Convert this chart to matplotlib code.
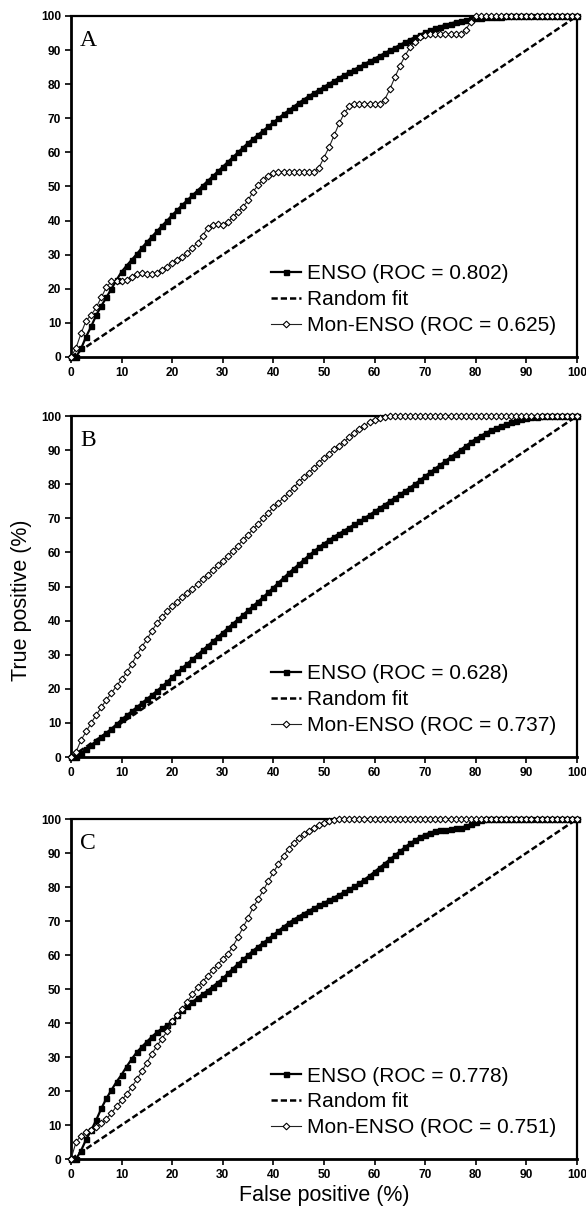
import matplotlib
matplotlib.use("Agg")
import matplotlib.pyplot as plt
import numpy as np

# False-positive rate (%) at which each curve is sampled
false_pos = list(range(0, 101))

# ---- Panel A ----
enso_a = [0, 0, 2.5, 6, 9, 12.3, 15, 17.5, 20, 22.6, 25,
          26.8, 28.5, 30.2, 32, 33.7, 35.3, 36.9, 38.5, 40, 41.6,
          43.1, 44.6, 46, 47.4, 48.8, 50.2, 51.6, 53, 54.4, 55.8,
          57.2, 58.6, 60, 61.4, 62.8, 64, 65.2, 66.4, 67.6, 68.8,
          70, 71.2, 72.3, 73.4, 74.5, 75.5, 76.5, 77.4, 78.3, 79.2,
          80.1, 81, 81.9, 82.7, 83.5, 84.3, 85.1, 85.9, 86.7, 87.5,
          88.3, 89.1, 89.9, 90.7, 91.5, 92.3, 93.1, 93.8, 94.5, 95.2,
          95.8, 96.4, 96.9, 97.4, 97.8, 98.2, 98.5, 98.8, 99.1, 99.3,
          99.5, 99.6, 99.7, 99.8, 99.85, 99.9, 99.95, 100, 100, 100,
          100, 100, 100, 100, 100, 100, 100, 100, 100, 100]
mon_a = [0, 2.7, 7, 10.7, 12.3, 14.6, 17.5, 20.5, 22.2, 22.4, 22.2,
         22.5, 23.5, 24.3, 24.5, 24.4, 24.3, 24.5, 25.5, 26.5, 27.5,
         28.3, 29.2, 30.5, 32, 33.5, 35.5, 37.8, 38.8, 39, 38.6,
         39.5, 41, 42.5, 44, 46, 48.5, 50.5, 52, 53.2, 54,
         54.3, 54.3, 54.3, 54.3, 54.3, 54.3, 54.3, 54.3, 55.5, 58.5,
         61.5, 65, 68.5, 71.5, 73.5, 74.2, 74.2, 74.2, 74.2, 74.2,
         74.2, 75.5, 78.5, 82, 85.3, 88.3, 90.8, 92.5, 93.8, 94.5,
         94.6, 94.6, 94.6, 94.6, 94.6, 94.6, 94.6, 96, 98.2, 100,
         100, 100, 100, 100, 100, 100, 100, 100, 100, 100,
         100, 100, 100, 100, 100, 100, 100, 100, 100, 100]

# ---- Panel B ----
enso_b = [0, 0, 1.1, 2.3, 3.5, 4.7, 5.9, 7.1, 8.3, 9.6, 11,
          12.2, 13.4, 14.6, 15.8, 17, 18.2, 19.4, 20.7, 22, 23.5,
          24.8, 26.1, 27.4, 28.7, 30, 31.3, 32.6, 33.9, 35.2, 36.5,
          37.8, 39.1, 40.4, 41.7, 43, 44.3, 45.6, 46.9, 48.3, 49.7,
          51.1, 52.5, 53.9, 55.2, 56.5, 57.8, 59.1, 60.3, 61.5, 62.6,
          63.6, 64.6, 65.5, 66.4, 67.3, 68.2, 69.1, 70, 71, 72,
          73, 74, 75, 76, 77, 78, 79, 80.1, 81.2, 82.4,
          83.5, 84.6, 85.7, 86.8, 87.9, 89, 90.1, 91.2, 92.3, 93.3,
          94.2, 95, 95.8, 96.5, 97.1, 97.6, 98.1, 98.6, 99, 99.3,
          99.6, 99.8, 99.9, 100, 100, 100, 100, 100, 100, 100]
mon_b = [0, 1.5, 5, 7.5, 10, 12.4, 14.6, 16.8, 18.8, 20.8, 22.8,
         24.8, 27.2, 30, 32.3, 34.5, 37, 39.3, 41, 42.7, 44.2,
         45.5, 46.8, 48.1, 49.4, 50.8, 52.2, 53.5, 54.8, 56.2, 57.6,
         59, 60.5, 62, 63.6, 65.2, 66.8, 68.4, 70, 71.6, 73.2,
         74.6, 76, 77.5, 79, 80.6, 82, 83.3, 84.8, 86.3, 87.8,
         89, 90.2, 91.3, 92.5, 93.7, 95, 96.2, 97.2, 98.1, 98.8,
         99.4, 99.8, 100, 100, 100, 100, 100, 100, 100, 100,
         100, 100, 100, 100, 100, 100, 100, 100, 100, 100,
         100, 100, 100, 100, 100, 100, 100, 100, 100, 100,
         100, 100, 100, 100, 100, 100, 100, 100, 100, 100]

# ---- Panel C ----
enso_c = [0, 0, 2.5, 5.8, 8.5, 11.5, 14.9, 17.8, 20.3, 22.7, 24.8,
          27.2, 29.4, 31.4, 33, 34.5, 36, 37.3, 38.4, 39.4, 40.5,
          42.3, 43.7, 44.9, 46.2, 47.4, 48.5, 49.5, 50.7, 51.9, 53.1,
          54.6, 56, 57.4, 58.7, 60, 61.3, 62.5, 63.6, 64.7, 65.9,
          67.1, 68.3, 69.4, 70.4, 71.3, 72.2, 73, 73.8, 74.6, 75.3,
          76.1, 76.9, 77.7, 78.5, 79.3, 80.2, 81.1, 82.2, 83.3, 84.5,
          85.7, 86.9, 88.1, 89.3, 90.5, 91.7, 92.8, 93.8, 94.7, 95.4,
          96, 96.4, 96.7, 96.9, 97.1, 97.3, 97.5, 97.8, 98.5, 99.2,
          99.7, 100, 100, 100, 100, 100, 100, 100, 100, 100,
          100, 100, 100, 100, 100, 100, 100, 100, 100, 100]
mon_c = [0, 5, 6.9, 7.8, 8.5, 9.3, 10.5, 11.8, 13.5, 15.5, 17.3,
         19, 21.2, 23.4, 25.8, 28.3, 31, 33.3, 35.4, 37.6, 40.6,
         42.5, 44.2, 46.3, 48.5, 50.5, 52.2, 53.8, 55.6, 57.2, 58.8,
         60.3, 62.5, 65.3, 68.1, 71, 74, 76.5, 79, 81.8, 84.3,
         86.8, 89.2, 91.2, 92.9, 94.4, 95.6, 96.6, 97.5, 98.2, 98.8,
         99.3, 99.6, 99.9, 100, 100, 100, 100, 100, 100, 100,
         100, 100, 100, 100, 100, 100, 100, 100, 100, 100,
         100, 100, 100, 100, 100, 100, 100, 100, 100, 100,
         100, 100, 100, 100, 100, 100, 100, 100, 100, 100,
         100, 100, 100, 100, 100, 100, 100, 100, 100, 100]

random_fit = [0, 100]
random_x = [0, 100]

panel_letters = ["A", "B", "C"]
enso_roc = ["0.802", "0.628", "0.778"]
mon_roc = ["0.625", "0.737", "0.751"]
ticks = [0, 10, 20, 30, 40, 50, 60, 70, 80, 90, 100]

enso_series = [enso_a, enso_b, enso_c]
mon_series = [mon_a, mon_b, mon_c]

plt.rcParams['font.family'] = ['Liberation Sans', 'DejaVu Sans']

fig = plt.figure(figsize=(5.86, 12.22), dpi=100)

W, H = 586.0, 1222.0
left_px, right_px = 71, 577
panels_px = [(16, 357), (416, 757), (819, 1159)]

for i, (top, bot) in enumerate(panels_px):
    ax = fig.add_axes([left_px / W, 1 - bot / H, (right_px - left_px) / W, (bot - top) / H])
    ax.plot(random_x, random_fit, color='black', lw=1.8, ls=(0, (2.5, 1.2)),
            label='Random fit', zorder=2)
    ax.plot(false_pos, enso_series[i], color='black', lw=1.6, marker='s',
            markersize=3.6, markerfacecolor='black', markeredgecolor='black',
            label=f'ENSO (ROC = {enso_roc[i]})', zorder=3, clip_on=False)
    ax.plot(false_pos, mon_series[i], color='#222222', lw=0.8, marker='D',
            markersize=3.4, markerfacecolor='white', markeredgecolor='black',
            markeredgewidth=0.8, label=f'Mon-ENSO (ROC = {mon_roc[i]})',
            zorder=4, clip_on=False)
    ax.set_xlim(0, 100)
    ax.set_ylim(0, 100)
    ax.set_xticks(ticks)
    ax.set_yticks(ticks)
    ax.tick_params(axis='both', direction='out', length=4, width=1.2,
                   labelsize=8.6, pad=3)
    for lab in ax.get_xticklabels() + ax.get_yticklabels():
        lab.set_fontweight('bold')
    for s in ['left', 'bottom']:
        ax.spines[s].set_linewidth(2.0)
    for s in ['top', 'right']:
        ax.spines[s].set_linewidth(1.6)

    h, l = ax.get_legend_handles_labels()
    order = [1, 0, 2]
    ax.legend([h[k] for k in order], [l[k] for k in order],
              loc='upper left', bbox_to_anchor=(0.395, 0.272),
              frameon=False, fontsize=15, handlelength=1.45,
              handletextpad=0.3, labelspacing=0.33, borderpad=0,
              borderaxespad=0)
    ax.text(0.018, 0.96, panel_letters[i], transform=ax.transAxes,
            fontsize=17, family='Liberation Serif', va='top', ha='left')

fig.text(22 / W, 1 - 600 / H, 'True positive (%)', rotation=90,
         fontsize=15.5, ha='center', va='center')
fig.text(324 / W, 1 - 1195 / H, 'False positive (%)',
         fontsize=15.5, ha='center', va='center')

fig.savefig('out.png', dpi=100)
